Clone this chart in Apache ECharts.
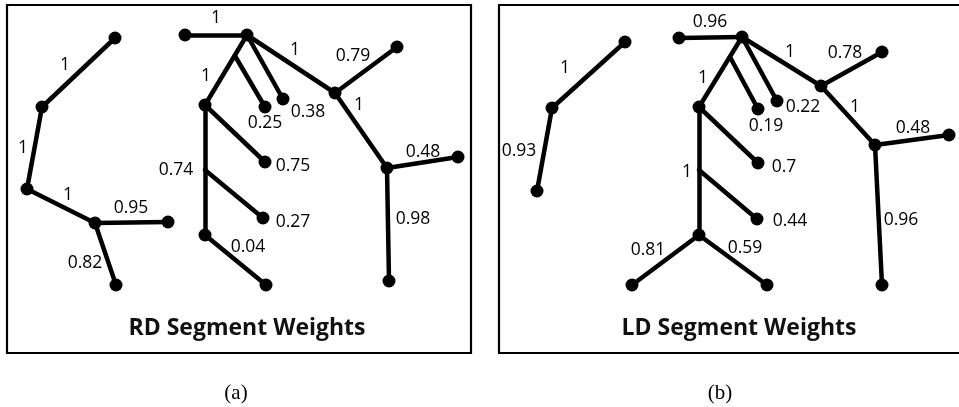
<!DOCTYPE html>
<html>
<head>
<meta charset="utf-8">
<script src="https://cdn.jsdelivr.net/npm/echarts@6/dist/echarts.min.js"></script>
<style>
  html, body { margin: 0; padding: 0; background: #fff; }
  #chart { width: 959px; height: 407px; }
</style>
</head>
<body>
<div id="chart"></div>
<script>
// Segment trees drawn on a pixel-like plane (x right, y down).

// ---- RD panel ----
const rdPoints = {
  a1: [115, 38], a2: [42, 107], a3: [27, 189], a4: [95, 223], a5: [168, 222], a6: [116, 285],
  b0: [185, 35], b1: [247, 35], b2: [205, 105], b3: [265, 107], b4: [283, 99], b5: [265, 162],
  b6: [335, 93], b7: [397, 47], b8: [387, 168], b9: [458, 157], b10: [389, 281],
  b11: [263, 218], b12: [205, 235], b13: [266, 285],
  j1: [235, 56], j2: [205, 170]          // branch points, no dot
};
const rdEdges = [
  ['a1', 'a2'], ['a2', 'a3'], ['a3', 'a4'], ['a4', 'a5'], ['a4', 'a6'],
  ['b0', 'b1'], ['b1', 'b2'], ['j1', 'b3'], ['b1', 'b4'], ['b2', 'b5'],
  ['b1', 'b6'], ['b6', 'b7'], ['b6', 'b8'], ['b8', 'b9'], ['b8', 'b10'],
  ['b2', 'j2'], ['j2', 'b11'], ['j2', 'b12'], ['b12', 'b13']
];
const rdWeights = ['1', '1', '1', '0.95', '0.82', '1', '1', '0.25', '0.38', '0.75',
  '1', '0.79', '1', '0.48', '0.98', '0.74', '0.27', null, '0.04'];
const rdWeightAt = [
  [65, 65], [23, 148], [68, 195], [131, 208], [85, 263], [216, 18], [206, 76], [265, 123],
  [308, 112], [293, 166], [295, 50], [353, 56], [359, 105], [423, 152], [413, 219], [176, 170],
  [293, 222], null, [248, 247]
];

// ---- LD panel ----
const ldPoints = {
  c1: [625, 42], c2: [552, 108], c3: [537, 191],
  d0: [679, 38], d1: [742, 37], d2: [699, 107], d3: [758, 109], d4: [777, 101], d5: [758, 163],
  d6: [821, 86], d7: [882, 52], d8: [875, 145], d9: [949, 135], d10: [882, 285],
  d11: [757, 219], d12: [699, 235], d13: [632, 285], d14: [767, 285],
  j1: [730, 57], j2: [699, 170]          // branch points, no dot
};
const ldEdges = [
  ['c1', 'c2'], ['c2', 'c3'],
  ['d0', 'd1'], ['d1', 'd2'], ['j1', 'd3'], ['d1', 'd4'], ['d2', 'd5'],
  ['d1', 'd6'], ['d6', 'd7'], ['d6', 'd8'], ['d8', 'd9'], ['d8', 'd10'],
  ['d2', 'j2'], ['j2', 'd11'], ['j2', 'd12'], ['d12', 'd13'], ['d12', 'd14']
];
const ldWeights = ['1', '0.93', '0.96', '1', '0.19', '0.22', '0.7', '1', '0.78', '1',
  '0.48', '0.96', '1', '0.44', null, '0.81', '0.59'];
const ldWeightAt = [
  [565, 68], [519, 151], [710, 22], [703, 78], [766, 126], [803, 107], [784, 167], [790, 52],
  [845, 53], [855, 107], [913, 128], [901, 220], [687, 172], [790, 221], null, [648, 250], [745, 248]
];

const panelTitles = ['RD Segment Weights', 'LD Segment Weights'];
const captions = ['(a)', '(b)'];

// ---- build series data ----
function edgeLines(points, edges) {
  return edges.map(([p, q]) => ({ coords: [points[p], points[q]] }));
}
function dots(points) {
  return Object.keys(points).filter(k => k[0] !== 'j').map(k => points[k]);
}
function weightLabels(weights, at) {
  const out = [];
  weights.forEach((w, i) => { if (w !== null) out.push({ value: at[i], name: w }); });
  return out;
}

const chart = echarts.init(document.getElementById('chart'), null, { renderer: 'canvas' });

const lineStyle = { color: '#000', width: 4.5, cap: 'round', opacity: 1 };
const labelFont = { fontFamily: 'Open Sans', fontSize: 17.5, color: '#000',
  textBorderWidth: 0, opacity: 1 };
const titleStyle = { fontFamily: 'Open Sans', fontWeight: 'bold', fontSize: 23, fill: '#111',
  align: 'center', verticalAlign: 'middle' };
const captionStyle = { fontFamily: 'Liberation Serif', fontSize: 21, fill: '#000',
  align: 'center', verticalAlign: 'middle' };

chart.setOption({
  backgroundColor: '#fff',
  animation: false,
  grid: { left: 0, right: 0, top: 0, bottom: 0 },
  xAxis: { type: 'value', min: 0, max: 959, show: false },
  yAxis: { type: 'value', min: 0, max: 407, inverse: true, show: false },
  graphic: [
    { type: 'rect', shape: { x: 7, y: 5, width: 464, height: 348 },
      style: { fill: 'none', stroke: '#000', lineWidth: 2.2 }, z: 1 },
    { type: 'rect', shape: { x: 499, y: 5, width: 480, height: 348 },
      style: { fill: 'none', stroke: '#000', lineWidth: 2.2 }, z: 1 },
    { type: 'text', x: 247, y: 328, style: Object.assign({ text: panelTitles[0] }, titleStyle) },
    { type: 'text', x: 739, y: 328, style: Object.assign({ text: panelTitles[1] }, titleStyle) },
    { type: 'text', x: 236, y: 393, style: Object.assign({ text: captions[0] }, captionStyle) },
    { type: 'text', x: 720, y: 393, style: Object.assign({ text: captions[1] }, captionStyle) }
  ],
  series: [
    { type: 'lines', coordinateSystem: 'cartesian2d', polyline: false, silent: true,
      lineStyle, data: edgeLines(rdPoints, rdEdges).concat(edgeLines(ldPoints, ldEdges)), z: 2 },
    { type: 'scatter', symbol: 'circle', symbolSize: 13, silent: true,
      itemStyle: { color: '#000', opacity: 1 }, data: dots(rdPoints).concat(dots(ldPoints)), z: 3 },
    { type: 'scatter', symbolSize: 1, silent: true, itemStyle: { color: 'rgba(0,0,0,0)' },
      label: Object.assign({ show: true, position: 'inside', formatter: p => p.name }, labelFont),
      data: weightLabels(rdWeights, rdWeightAt).concat(weightLabels(ldWeights, ldWeightAt)), z: 4 }
  ]
});
</script>
</body>
</html>
